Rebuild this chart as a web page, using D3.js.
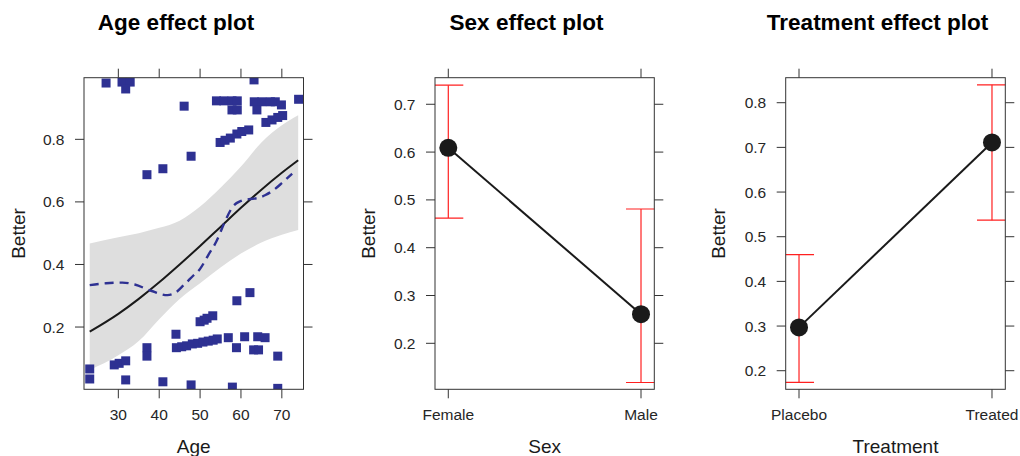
<!DOCTYPE html>
<html lang="en">
<head>
<meta charset="utf-8">
<script src="https://cdn.jsdelivr.net/npm/d3@7"></script>
<style>
    body { margin: 0; background: #fff; }
    svg { display: block; font-family: "Liberation Sans", Arial, Helvetica, sans-serif; }
    .box { fill: none; stroke: #333; stroke-width: 1; }
    .tick { stroke: #333; stroke-width: 1; }
    .ticklab { font-size: 15.5px; fill: #262626; }
    .axtitle { font-size: 19px; fill: #1a1a1a; }
    .title { font-size: 22.5px; font-weight: bold; fill: #000; }
</style>
</head>
<body>
<div id="chart"></div>
<script>
    // ---- Age effect ----
    const fitAge = [23, 30, 35, 40, 45, 50, 55, 60, 65, 70, 74];
    const fitBetter = [0.185, 0.242, 0.29, 0.343, 0.40, 0.459, 0.52, 0.581, 0.639, 0.693, 0.733];
    const fitUpper = [0.467, 0.487, 0.50, 0.517, 0.54, 0.585, 0.645, 0.713, 0.79, 0.845, 0.877];
    const fitLower = [0.063, 0.11, 0.155, 0.225, 0.29, 0.34, 0.39, 0.435, 0.47, 0.495, 0.51];

    const smoothAge = [23, 27, 31, 34, 38, 42, 44, 46, 48, 50, 52, 54, 56, 58, 60, 62, 64, 66, 68, 70, 72.5];
    const smoothBetter = [0.334, 0.34, 0.342, 0.336, 0.316, 0.302, 0.31, 0.334, 0.36, 0.386, 0.43, 0.474,
        0.535, 0.585, 0.603, 0.609, 0.612, 0.622, 0.638, 0.66, 0.69];

    const pointAge = [27.0, 30.9, 32.9, 31.8, 46.1, 47.8, 40.9, 37.0, 63.2,
        54.0, 55.8, 57.8, 59.1, 57.8, 59.1, 63.25, 65.1, 67.2, 68.4, 63.9, 69.9, 74.1,
        54.9, 56.1, 57.4, 59.0, 60.2, 61.9, 66.1, 67.6, 69.0, 70.2,
        23, 23, 29.0, 30.2, 31.8, 31.8, 37.0, 37.0, 40.9, 44.1,
        44.2, 45.5, 46.7, 48.1, 49.4, 50.7, 52.0, 53.2, 54.2,
        47.8, 50.0, 51.0, 51.7, 53.1, 59.0, 62.2, 56.9, 60.9, 64.1, 65.9,
        58.9, 63.1, 64.3, 69.0, 57.9, 69.0];
    const pointBetter = [0.980, 0.983, 0.983, 0.961, 0.906, 0.746, 0.706, 0.687, 0.99,
        0.923, 0.923, 0.923, 0.923, 0.894, 0.894, 0.92, 0.92, 0.92, 0.92, 0.894, 0.91, 0.928,
        0.790, 0.797, 0.804, 0.817, 0.825, 0.830, 0.854, 0.862, 0.87, 0.876,
        0.066, 0.034, 0.079, 0.084, 0.092, 0.031, 0.134, 0.107, 0.025, 0.177,
        0.134, 0.137, 0.14, 0.146, 0.148, 0.152, 0.155, 0.158, 0.162,
        0.015, 0.217, 0.222, 0.228, 0.236, 0.284, 0.31, 0.166, 0.169, 0.169, 0.166,
        0.134, 0.127, 0.127, 0.107, 0.008, 0.004];

    const ageTicks = [30, 40, 50, 60, 70];
    const ageYTicks = [0.2, 0.4, 0.6, 0.8];

    // ---- Sex effect ----
    const sexLevels = ['Female', 'Male'];
    const sexFit = [0.609, 0.261];
    const sexLower = [0.462, 0.118];
    const sexUpper = [0.740, 0.481];
    const sexYTicks = [0.2, 0.3, 0.4, 0.5, 0.6, 0.7];

    // ---- Treatment effect ----
    const trtLevels = ['Placebo', 'Treated'];
    const trtFit = [0.297, 0.711];
    const trtLower = [0.174, 0.537];
    const trtUpper = [0.460, 0.840];
    const trtYTicks = [0.2, 0.3, 0.4, 0.5, 0.6, 0.7, 0.8];

    const width = 1020, height = 456;
    const plotTop = 77.7, plotBottom = 389.3, tickLen = 9;
    const svg = d3.select('#chart').append('svg')
        .attr('width', width).attr('height', height);

    // box, ticks on all four sides, labels on left & bottom
    const frame = (g, x, y, xTicks, yTicks, xFmt, yFmt) => {
        const [x0, x1] = x.range();
        const [y1, y0] = y.range();
        g.append('rect').attr('class', 'box')
            .attr('x', x0).attr('y', y0).attr('width', x1 - x0).attr('height', y1 - y0);
        for (const t of xTicks) {
            g.append('line').attr('class', 'tick')
                .attr('x1', x(t)).attr('x2', x(t)).attr('y1', y1).attr('y2', y1 + tickLen);
            g.append('line').attr('class', 'tick')
                .attr('x1', x(t)).attr('x2', x(t)).attr('y1', y0).attr('y2', y0 - tickLen);
            g.append('text').attr('class', 'ticklab')
                .attr('x', x(t)).attr('y', 420).attr('text-anchor', 'middle').text(xFmt(t));
        }
        for (const t of yTicks) {
            g.append('line').attr('class', 'tick')
                .attr('x1', x0).attr('x2', x0 - tickLen).attr('y1', y(t)).attr('y2', y(t));
            g.append('line').attr('class', 'tick')
                .attr('x1', x1).attr('x2', x1 + tickLen).attr('y1', y(t)).attr('y2', y(t));
            g.append('text').attr('class', 'ticklab')
                .attr('x', x0 - 19.5).attr('y', y(t)).attr('dy', '0.36em')
                .attr('text-anchor', 'end').text(yFmt(t));
        }
    };

    const labels = (g, title, titleX, xTitle, xTitleX, yTitleX) => {
        g.append('text').attr('class', 'title')
            .attr('x', titleX).attr('y', 30).attr('text-anchor', 'middle').text(title);
        g.append('text').attr('class', 'axtitle')
            .attr('x', xTitleX).attr('y', 452.7).attr('text-anchor', 'middle').text(xTitle);
        g.append('text').attr('class', 'axtitle')
            .attr('transform', `translate(${yTitleX},${(plotTop + plotBottom) / 2}) rotate(-90)`)
            .attr('text-anchor', 'middle').text('Better');
    };

    const fmt1 = d3.format('.1f');

    /* ---------------- Age panel ---------------- */
    {
        const g = svg.append('g');
        const x = d3.scaleLinear().domain([21.6, 75.3]).range([84, 303.5]);
        const y = d3.scaleLinear().domain([0.001, 0.997]).range([plotBottom, plotTop]);

        g.append('clipPath').attr('id', 'clipAge').append('rect')
            .attr('x', 84).attr('y', plotTop).attr('width', 303.5 - 84).attr('height', plotBottom - plotTop);
        const inner = g.append('g').attr('clip-path', 'url(#clipAge)');

        const band = fitAge.map((a, i) => ({a, lo: fitLower[i], hi: fitUpper[i]}));
        inner.append('path').datum(band)
            .attr('fill', '#dedede')
            .attr('d', d3.area().curve(d3.curveMonotoneX)
                .x(d => x(d.a)).y0(d => y(d.lo)).y1(d => y(d.hi)));

        const pts = pointAge.map((a, i) => ({a, b: pointBetter[i]}));
        const sq = 9;
        inner.selectAll('rect.pt').data(pts).enter().append('rect')
            .attr('class', 'pt')
            .attr('x', d => x(d.a) - sq / 2).attr('y', d => y(d.b) - sq / 2)
            .attr('width', sq).attr('height', sq)
            .attr('fill', '#2e3192');

        inner.append('path').datum(fitAge.map((a, i) => [a, fitBetter[i]]))
            .attr('fill', 'none').attr('stroke', '#1a1a1a').attr('stroke-width', 2)
            .attr('d', d3.line().curve(d3.curveMonotoneX).x(d => x(d[0])).y(d => y(d[1])));

        inner.append('path').datum(smoothAge.map((a, i) => [a, smoothBetter[i]]))
            .attr('fill', 'none').attr('stroke', '#2e3192').attr('stroke-width', 2.4)
            .attr('stroke-dasharray', '9 6')
            .attr('d', d3.line().curve(d3.curveMonotoneX).x(d => x(d[0])).y(d => y(d[1])));

        frame(g, x, y, ageTicks, ageYTicks, d => d, fmt1);
        labels(g, 'Age effect plot', 176, 'Age', 193.7, 25);
    }

    /* ---------------- factor panels ---------------- */
    const factorPanel = (levels, fit, lower, upper, yTicks, yDomain, x0, x1, opts) => {
        const g = svg.append('g');
        const x = d3.scaleLinear().domain([-0.069, 1.069]).range([x0, x1]);
        const y = d3.scaleLinear().domain(yDomain).range([plotBottom, plotTop]);
        const idx = levels.map((_, i) => i);

        g.append('clipPath').attr('id', opts.clip).append('rect')
            .attr('x', x0).attr('y', plotTop).attr('width', x1 - x0).attr('height', plotBottom - plotTop);
        const inner = g.append('g').attr('clip-path', `url(#${opts.clip})`);

        const cap = 15;
        for (const i of idx) {
            inner.append('line').attr('stroke', '#ff2020').attr('stroke-width', 1.2)
                .attr('x1', x(i)).attr('x2', x(i)).attr('y1', y(lower[i])).attr('y2', y(upper[i]));
            for (const v of [lower[i], upper[i]]) {
                inner.append('line').attr('stroke', '#ff2020').attr('stroke-width', 1.2)
                    .attr('x1', x(i) - cap).attr('x2', x(i) + cap).attr('y1', y(v)).attr('y2', y(v));
            }
        }
        inner.append('path').datum(idx)
            .attr('fill', 'none').attr('stroke', '#1a1a1a').attr('stroke-width', 2)
            .attr('d', d3.line().x(i => x(i)).y(i => y(fit[i])));
        g.selectAll('circle.pt').data(idx).enter().append('circle')
            .attr('class', 'pt')
            .attr('cx', i => x(i)).attr('cy', i => y(fit[i])).attr('r', 9)
            .attr('fill', '#1a1a1a');

        frame(g, x, y, idx, yTicks, i => levels[i], fmt1);
        labels(g, opts.title, opts.titleX, opts.xTitle, (x0 + x1) / 2, opts.yTitleX);
    };

    factorPanel(sexLevels, sexFit, sexLower, sexUpper, sexYTicks, [0.1038, 0.7556], 435, 654.3,
        {clip: 'clipSex', title: 'Sex effect plot', titleX: 526.5, xTitle: 'Sex', yTitleX: 375});
    factorPanel(trtLevels, trtFit, trtLower, trtUpper, trtYTicks, [0.1584, 0.856], 785.7, 1005.3,
        {clip: 'clipTrt', title: 'Treatment effect plot', titleX: 877.5, xTitle: 'Treatment', yTitleX: 725});
</script>
</body>
</html>
